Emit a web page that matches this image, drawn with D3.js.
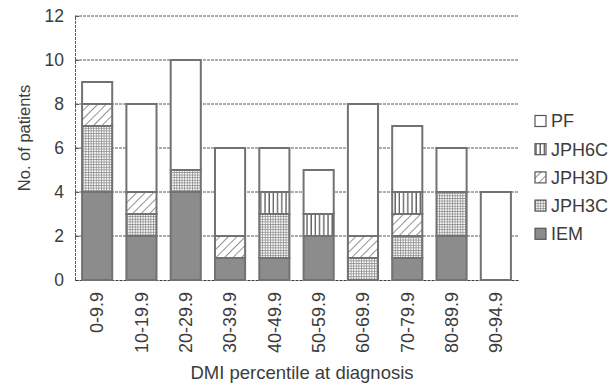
<!DOCTYPE html>
<html>
<head>
<meta charset="utf-8">
<script src="https://cdn.jsdelivr.net/npm/d3@7"></script>
<style>
  body { margin: 0; background: #fff; }
  text { font-family: "Liberation Sans", Arial, sans-serif; fill: #3c3c3c; }
</style>
</head>
<body>
<div id="chart"></div>
<script>
// categories and series
var categories = ["0-9.9", "10-19.9", "20-29.9", "30-39.9", "40-49.9",
                  "50-59.9", "60-69.9", "70-79.9", "80-89.9", "90-94.9"];
var seriesNames = ["IEM", "JPH3C", "JPH3D", "JPH6C", "PF"];
var iem   = [4, 2, 4, 1, 1, 2, 0, 1, 2, 0];
var jph3c = [3, 1, 1, 0, 2, 0, 1, 1, 2, 0];
var jph3d = [1, 1, 0, 1, 0, 0, 1, 1, 0, 0];
var jph6c = [0, 0, 0, 0, 1, 1, 0, 1, 0, 0];
var pf    = [1, 4, 5, 4, 2, 2, 6, 3, 2, 4];
var yTicks = [0, 2, 4, 6, 8, 10, 12];

var width = 611, height = 385;
var margin = {top: 16, right: 93, bottom: 105, left: 75};
var innerW = width - margin.left - margin.right;
var innerH = height - margin.top - margin.bottom;

var rows = categories.map(function(c, i) {
  return {cat: c, IEM: iem[i], JPH3C: jph3c[i], JPH3D: jph3d[i], JPH6C: jph6c[i], PF: pf[i]};
});
var stacked = d3.stack().keys(seriesNames)(rows);

var svg = d3.select("#chart").append("svg")
    .attr("width", width)
    .attr("height", height);

// hatch patterns
var defs = svg.append("defs");
var grid = defs.append("pattern").attr("id", "p-grid")
    .attr("patternUnits", "userSpaceOnUse").attr("width", 2.6).attr("height", 2.6);
grid.append("rect").attr("width", 2.6).attr("height", 2.6).attr("fill", "#fff");
grid.append("path").attr("d", "M0,0.5H2.6M0.5,0V2.6").attr("stroke", "#8a8a8a").attr("stroke-width", 0.8);

var diag = defs.append("pattern").attr("id", "p-diag")
    .attr("patternUnits", "userSpaceOnUse").attr("width", 6).attr("height", 6)
    .attr("patternTransform", "rotate(45)");
diag.append("rect").attr("width", 6).attr("height", 6).attr("fill", "#fff");
diag.append("line").attr("x1", 0).attr("y1", 0).attr("x2", 0).attr("y2", 6)
    .attr("stroke", "#4a4a4a").attr("stroke-width", 1.2);

var vert = defs.append("pattern").attr("id", "p-vert")
    .attr("patternUnits", "userSpaceOnUse").attr("width", 4.2).attr("height", 4);
vert.append("rect").attr("width", 4.2).attr("height", 4).attr("fill", "#fff");
vert.append("line").attr("x1", 1).attr("y1", 0).attr("x2", 1).attr("y2", 4)
    .attr("stroke", "#4a4a4a").attr("stroke-width", 1.2);

var fills = {IEM: "#8c8c8c", JPH3C: "url(#p-grid)", JPH3D: "url(#p-diag)", JPH6C: "url(#p-vert)", PF: "#fff"};

var g = svg.append("g")
    .attr("transform", "translate(" + margin.left + "," + margin.top + ")");

var x = d3.scaleBand()
    .domain(categories)
    .range([0, innerW])
    .paddingInner(0.32)
    .paddingOuter(0.16);

var y = d3.scaleLinear()
    .domain([0, 12])
    .range([innerH, 0]);

// gridlines
g.append("g").attr("class", "grid")
  .selectAll("line").data(yTicks.slice(1)).enter().append("line")
    .attr("x1", 0).attr("x2", innerW)
    .attr("y1", function(d) { return y(d); })
    .attr("y2", function(d) { return y(d); })
    .attr("stroke", "#5a5a5a")
    .attr("stroke-width", 1)
    .attr("stroke-dasharray", "3,1");

// y axis
var yAxis = g.append("g")
    .call(d3.axisLeft(y).tickValues(yTicks).tickSize(-4).tickPadding(11));
yAxis.select(".domain").attr("stroke", "#5a5a5a").attr("stroke-dasharray", "3,1");
yAxis.selectAll(".tick line").attr("stroke", "#5a5a5a");
yAxis.selectAll(".tick text").attr("font-size", 17.5).attr("fill", "#3c3c3c");

// x axis
var xAxis = g.append("g")
    .attr("transform", "translate(0," + innerH + ")")
    .call(d3.axisBottom(x).tickSize(0).tickPadding(0));
xAxis.select(".domain").attr("stroke", "#3c3c3c").attr("stroke-dasharray", "3,1");
xAxis.selectAll(".tick text")
    .attr("font-size", 18)
    .attr("fill", "#3c3c3c")
    .attr("transform", "rotate(-90)")
    .attr("text-anchor", "end")
    .attr("x", -12)
    .attr("y", 0)
    .attr("dy", "0.35em");

// stacked bars
g.selectAll(".layer")
    .data(stacked)
  .enter().append("g")
    .attr("class", "layer")
    .attr("fill", function(d) { return fills[d.key]; })
  .selectAll("rect")
    .data(function(d) { return d.filter(function(p) { return p[1] > p[0]; }); })
  .enter().append("rect")
    .attr("x", function(d) { return x(d.data.cat); })
    .attr("y", function(d) { return y(d[1]); })
    .attr("width", x.bandwidth())
    .attr("height", function(d) { return y(d[0]) - y(d[1]); })
    .attr("stroke", "#727272")
    .attr("stroke-width", 2);

// axis titles
svg.append("text")
    .attr("transform", "translate(30,138) rotate(-90)")
    .attr("text-anchor", "middle")
    .attr("font-size", 16.5)
    .text("No. of patients");

svg.append("text")
    .attr("x", 302)
    .attr("y", 379)
    .attr("text-anchor", "middle")
    .attr("font-size", 18.5)
    .text("DMI percentile at diagnosis");

// legend, top to bottom PF ... IEM
var legend = svg.append("g")
    .attr("transform", "translate(535,121)");
var items = legend.selectAll("g")
    .data(seriesNames.slice().reverse())
  .enter().append("g")
    .attr("transform", function(d, i) { return "translate(0," + (i * 28.2) + ")"; });
items.append("rect")
    .attr("x", 0).attr("y", -5.5)
    .attr("width", 11).attr("height", 11)
    .attr("fill", function(d) { return fills[d]; })
    .attr("stroke", "#555")
    .attr("stroke-width", 1.2);
items.append("text")
    .attr("x", 16)
    .attr("dy", "0.36em")
    .attr("font-size", 18)
    .text(function(d) { return d; });
</script>
</body>
</html>
